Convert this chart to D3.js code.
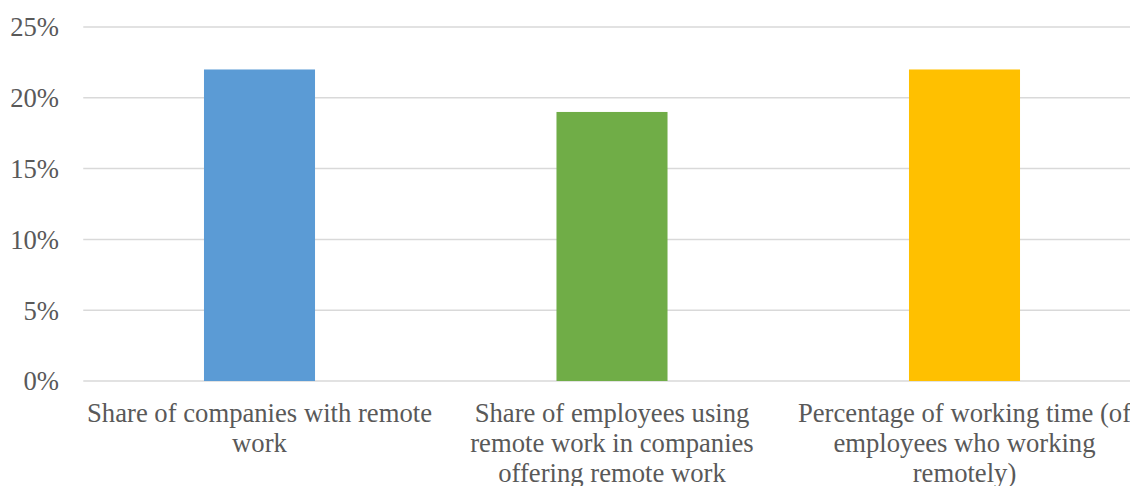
<!DOCTYPE html>
<html>
<head>
<meta charset="utf-8">
<script src="https://cdn.jsdelivr.net/npm/d3@7"></script>
<style>
  html, body { margin: 0; padding: 0; background: #fff; overflow: hidden; }
  svg { display: block; }
</style>
</head>
<body>
<svg id="chart" width="1130" height="486"></svg>
<script>
const categories = [
  ["Share of companies with remote", "work"],
  ["Share of employees using", "remote work in companies", "offering remote work"],
  ["Percentage of working time (of", "employees who working", "remotely)"]
];
const values = [22, 19, 22];
const colors = ["#5b9bd5", "#70ad47", "#ffc000"];
const yTicks = [0, 5, 10, 15, 20, 25];

const FONT = "Liberation Serif";
const svg = d3.select("#chart");
const margin = { left: 83.25, right: -10.75, top: 27, bottom: 105 };
const W = 1130, H = 486;

const x = d3.scaleBand()
  .domain(d3.range(values.length))
  .range([margin.left, W - margin.right])
  .paddingInner(0.685)
  .paddingOuter(0.3425);

const y = d3.scaleLinear().domain([0, 25]).range([H - margin.bottom, margin.top]);

// gridlines
svg.append("g")
  .selectAll("line")
  .data(yTicks)
  .join("line")
  .attr("x1", margin.left)
  .attr("x2", W)
  .attr("y1", d => y(d))
  .attr("y2", d => y(d))
  .attr("stroke", "#d9d9d9")
  .attr("stroke-width", 1.5);

// y axis labels
const yAxis = d3.axisLeft(y).tickValues(yTicks).tickFormat(d => d + "%").tickSize(0).tickPadding(0);
const gy = svg.append("g").attr("transform", "translate(59,0)").call(yAxis);
gy.select(".domain").remove();
gy.selectAll("text")
  .style("font-family", FONT)
  .style("font-size", "26.67px")
  .style("fill", "#595959")
  .attr("dy", "0.33em");

// bars
svg.append("g")
  .selectAll("rect")
  .data(values)
  .join("rect")
  .attr("x", (d, i) => x(i))
  .attr("width", x.bandwidth())
  .attr("y", d => y(d))
  .attr("height", d => y(0) - y(d))
  .attr("fill", (d, i) => colors[i]);

// category labels
const lbl = svg.append("g")
  .selectAll("text")
  .data(categories)
  .join("text")
  .attr("text-anchor", "middle")
  .style("font-family", FONT)
  .style("font-size", "26.67px")
  .style("fill", "#595959")
  .attr("x", (d, i) => x(i) + x.bandwidth() / 2)
  .attr("y", y(0) + 41);
lbl.selectAll("tspan")
  .data(d => d)
  .join("tspan")
  .attr("x", function() { return d3.select(this.parentNode).attr("x"); })
  .attr("dy", (d, i) => i === 0 ? 0 : 30)
  .text(d => d);
</script>
</body>
</html>
